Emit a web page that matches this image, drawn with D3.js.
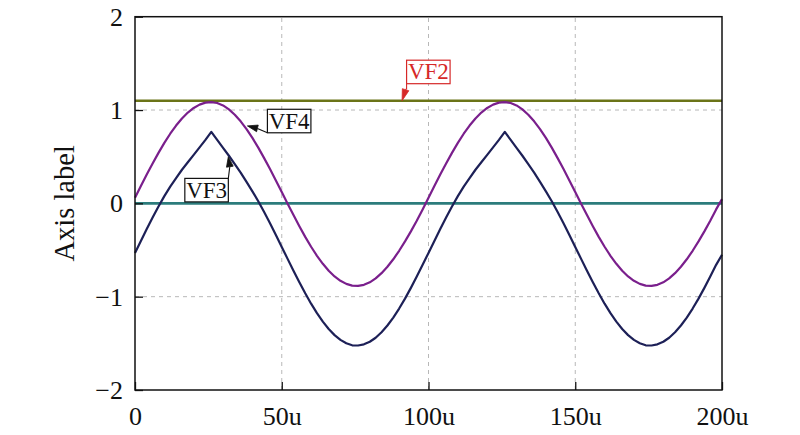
<!DOCTYPE html>
<html>
<head>
<meta charset="utf-8">
<script src="https://cdn.jsdelivr.net/npm/d3@7/dist/d3.min.js"></script>
<style>
  html, body { margin: 0; padding: 0; background: #fff; }
  svg { display: block; }
</style>
</head>
<body>
<svg id="chart" width="800" height="435"></svg>
<script>
// ---------- data ----------
const time = [0,2,4,6,8,10,12,14,16,18,20,22,24,26,28,30,32,34,36,38,40,42,44,46,48,
  50,52,54,56,58,60,62,64,66,68,70,72,74,76,78,80,82,84,86,88,90,92,94,96,98,
  100,102,104,106,108,110,112,114,116,118,120,122,124,126,128,130,132,134,136,138,140,142,144,146,148,
  150,152,154,156,158,160,162,164,166,168,170,172,174,176,178,180,182,184,186,188,190,192,194,196,198,200];

// VF4 (purple)
const vf4 = [0.060,0.185,0.308,0.427,0.541,0.648,0.746,0.834,0.910,0.973,1.022,1.058,1.079,1.085,1.075,1.049,1.007,0.950,0.879,0.796,0.701,0.597,0.485,0.367,0.245,
  0.121,-0.003,-0.126,-0.245,-0.359,-0.465,-0.562,-0.648,-0.722,-0.783,-0.830,-0.863,-0.881,-0.885,-0.873,-0.846,-0.804,-0.748,-0.679,-0.599,-0.508,-0.408,-0.300,-0.186,-0.065,
  0.060,0.185,0.308,0.427,0.541,0.648,0.746,0.834,0.910,0.973,1.022,1.058,1.079,1.085,1.075,1.049,1.007,0.950,0.879,0.796,0.701,0.597,0.485,0.367,0.245,
  0.121,-0.003,-0.126,-0.245,-0.359,-0.465,-0.562,-0.648,-0.722,-0.783,-0.830,-0.863,-0.881,-0.885,-0.873,-0.846,-0.804,-0.748,-0.679,-0.599,-0.508,-0.408,-0.300,-0.186,-0.065,0.045];

// VF3 (dark navy)
const vf3 = [-0.531,-0.403,-0.275,-0.152,-0.034,0.077,0.179,0.270,0.360,0.440,0.520,0.600,0.680,0.765,0.680,0.595,0.510,0.420,0.330,0.230,0.129,0.023,-0.092,-0.213,-0.339,
  -0.467,-0.595,-0.723,-0.846,-0.964,-1.075,-1.177,-1.268,-1.347,-1.412,-1.463,-1.499,-1.521,-1.523,-1.511,-1.483,-1.440,-1.381,-1.309,-1.224,-1.127,-1.021,-0.906,-0.785,-0.659,
  -0.531,-0.403,-0.275,-0.152,-0.034,0.077,0.179,0.270,0.360,0.440,0.520,0.600,0.680,0.765,0.680,0.595,0.510,0.420,0.330,0.230,0.129,0.023,-0.092,-0.213,-0.339,
  -0.467,-0.595,-0.723,-0.846,-0.964,-1.075,-1.177,-1.268,-1.347,-1.412,-1.463,-1.499,-1.521,-1.523,-1.511,-1.483,-1.440,-1.381,-1.309,-1.224,-1.127,-1.021,-0.906,-0.785,-0.659,-0.550];

// constant traces
const vf2Level = 1.1;   // olive
const vf1Level = 0.0;   // teal

const xTicks = [0, 50, 100, 150, 200];
const xTickLabels = ["0", "50u", "100u", "150u", "200u"];
const yTicks = [-2, -1, 0, 1, 2];
const yTickLabels = ["\u22122", "\u22121", "0", "1", "2"];
const yLabel = "Axis label";

// annotations: name, anchor point (data coords)
const annNames = ["VF2", "VF4", "VF3"];
const annT = [91, 38.3, 31.8];
const annV = [1.1, 0.83, 0.5];

// ---------- layout ----------
const W = 800, H = 435;
const FONT = "'Liberation Serif', 'Times New Roman', serif";
const margin = { left: 135, right: 78, top: 16.7, bottom: 45 };
const svg = d3.select("#chart");

const x = d3.scaleLinear().domain([0, 200]).range([margin.left, W - margin.right]);
const y = d3.scaleLinear().domain([-2, 2]).range([H - margin.bottom, margin.top]);

// grid
const grid = svg.append("g").attr("stroke", "#b8b8b8").attr("stroke-width", 1).attr("stroke-dasharray", "4,4");
xTicks.slice(1, -1).forEach(t => {
  grid.append("line").attr("x1", x(t)).attr("x2", x(t)).attr("y1", y(-2)).attr("y2", y(2));
});
yTicks.slice(1, -1).forEach(v => {
  grid.append("line").attr("x1", x(0)).attr("x2", x(200)).attr("y1", y(v)).attr("y2", y(v));
});

// series
const line = d3.line().x((d, i) => x(time[i])).y(d => y(d));
const plot = svg.append("g").attr("fill", "none").attr("stroke-linejoin", "round");

plot.append("path").datum(time.map(() => vf1Level)).attr("d", line)
  .attr("stroke", "#2c7c7c").attr("stroke-width", 2.6);
plot.append("path").datum(time.map(() => vf2Level)).attr("d", line)
  .attr("stroke", "#6b7418").attr("stroke-width", 2.6);
plot.append("path").datum(vf4).attr("d", line)
  .attr("stroke", "#7a1f8c").attr("stroke-width", 2.2);
plot.append("path").datum(vf3).attr("d", line)
  .attr("stroke", "#1d2057").attr("stroke-width", 2.2);

// axes
const tickFont = 26;
const xAxis = d3.axisBottom(x).tickValues(xTicks).tickFormat((d, i) => xTickLabels[i])
  .tickSizeInner(-8).tickSizeOuter(0).tickPadding(16.5);
const yAxis = d3.axisLeft(y).tickValues(yTicks).tickFormat((d, i) => yTickLabels[i])
  .tickSizeInner(-8).tickSizeOuter(0).tickPadding(12);

const gx = svg.append("g").attr("transform", `translate(0,${y(-2)})`).call(xAxis);
const gy = svg.append("g").attr("transform", `translate(${x(0)},0)`).call(yAxis);
[gx, gy].forEach(g => {
  g.attr("font-family", null).attr("font-size", null);
  g.selectAll("text").style("font-family", FONT).style("font-size", tickFont + "px").attr("fill", "#111");
  g.selectAll("line").attr("stroke", "#111").attr("stroke-width", 1.3);
  g.select(".domain").remove();
});

// frame
svg.append("rect").attr("x", x(0)).attr("y", y(2)).attr("width", x(200) - x(0)).attr("height", y(-2) - y(2))
  .attr("fill", "none").attr("stroke", "#111").attr("stroke-width", 1.5);

// y label
svg.append("text").attr("transform", `translate(74,${(y(2) + y(-2)) / 2}) rotate(-90)`)
  .attr("text-anchor", "middle").style("font-family", FONT).style("font-size", "28.5px")
  .attr("fill", "#111").text(yLabel);

// annotations
const annStyle = {
  VF2: { color: "#d62828", bx: 4.5, by: -40.5, tail: "bl", tailEnd: [3.5, -11] },
  VF4: { color: "#111", bx: 20, by: -16.6, tail: "bl", tailEnd: [10, 2.5] },
  VF3: { color: "#111", bx: -43.5, by: 21.7, tail: "tr", tailEnd: [1.5, 10] }
};
const boxW = 43.5, boxH = 23.5;
annNames.forEach((name, i) => {
  const s = annStyle[name];
  const tx = x(annT[i]), ty = y(annV[i]);
  const bx = tx + s.bx, by = ty + s.by;
  const g = svg.append("g");
  const sx = s.tail === "bl" ? bx : bx + boxW;
  const sy = s.tail === "bl" ? by + boxH : by;
  const ex = tx + s.tailEnd[0], ey = ty + s.tailEnd[1];
  const midY = name === "VF2" ? sy + 5 : sy;
  g.append("polyline").attr("points", `${sx},${sy} ${sx},${midY} ${ex},${ey}`)
    .attr("fill", "none").attr("stroke", s.color).attr("stroke-width", 1.1);
  const dx = tx - ex, dy = ty - ey, L = Math.hypot(dx, dy);
  const ux = dx / L, uy = dy / L, px = -uy, py = ux, hw = 3.4;
  g.append("polygon")
    .attr("points", `${tx},${ty} ${ex + px * hw},${ey + py * hw} ${ex - px * hw},${ey - py * hw}`)
    .attr("fill", s.color).attr("stroke", s.color).attr("stroke-width", 0.8);
  g.append("rect").attr("x", bx).attr("y", by).attr("width", boxW).attr("height", boxH)
    .attr("fill", "#fff").attr("stroke", s.color).attr("stroke-width", 1.2);
  g.append("text").attr("x", bx + boxW / 2).attr("y", by + boxH - 4.2).attr("text-anchor", "middle")
    .style("font-family", FONT).style("font-size", "23px").attr("fill", s.color).text(name);
});
</script>
</body>
</html>
